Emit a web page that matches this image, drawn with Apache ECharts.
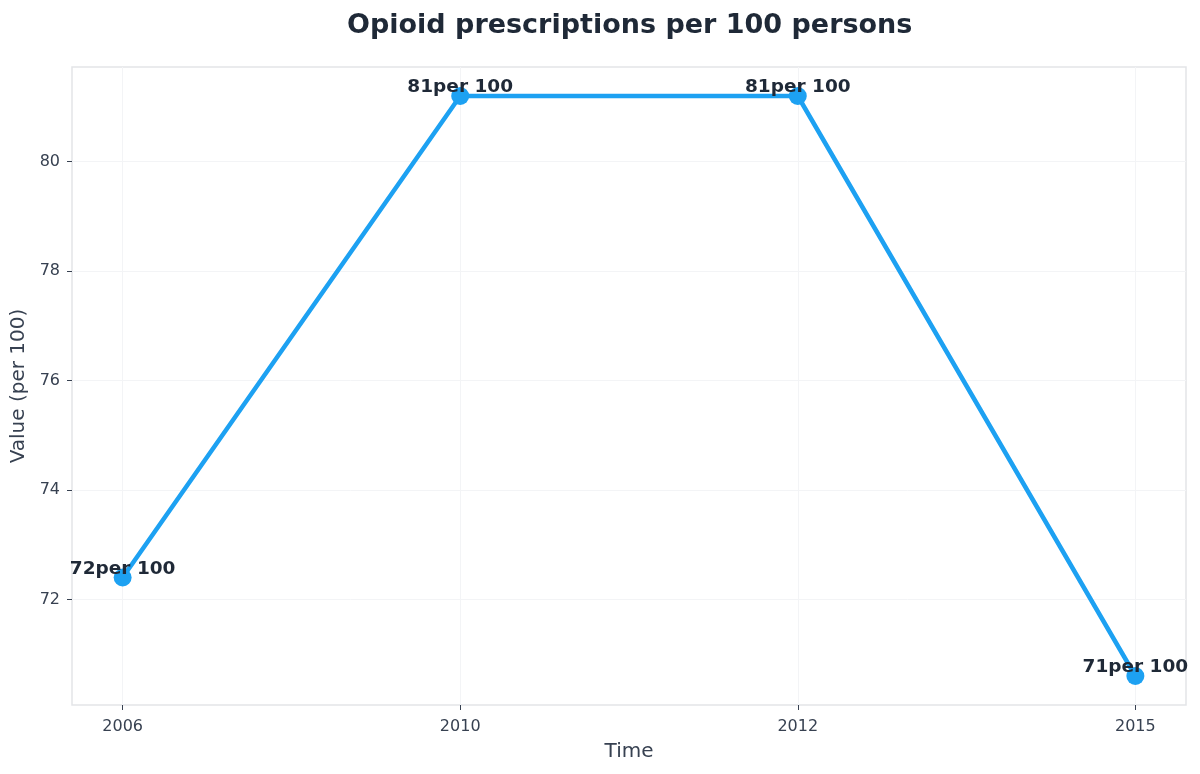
<!DOCTYPE html>
<html>
<head>
<meta charset="utf-8">
<script src="https://cdn.jsdelivr.net/npm/echarts@6/dist/echarts.min.js"></script>
<style>html,body{margin:0;padding:0;background:#fff;}#chart{width:1200px;height:774px;}</style>
</head>
<body>
<div id="chart"></div>
<script>
var categories = ['2006', '2010', '2012', '2015'];
var values = [72.4, 81.2, 81.2, 70.6];
var yTicks = [72, 74, 76, 78, 80];
var xTicks = [0, 1, 2, 3];

var chart = echarts.init(document.getElementById('chart'));
var font = 'DejaVu Sans';
chart.setOption({
  animation: false,
  backgroundColor: '#ffffff',
  title: {
    text: 'Opioid prescriptions per 100 persons',
    left: 342, top: 7,
    textStyle: { fontFamily: font, fontSize: 27, fontWeight: 'bold', color: '#1f2937' }
  },
  grid: {
    left: 72, right: 14, top: 67, bottom: 69,
    outerBoundsMode: 'none', containLabel: false,
    show: true, borderColor: '#e3e5e8', borderWidth: 1.5, backgroundColor: 'transparent'
  },
  xAxis: {
    type: 'value', min: -0.15, max: 3.15,
    name: 'Time', nameLocation: 'middle', nameGap: 37,
    nameTextStyle: { fontFamily: font, fontSize: 20, color: '#374151' },
    axisLine: { show: false, onZero: false },
    axisTick: { show: true, length: 5, customValues: xTicks, lineStyle: { color: '#374151', width: 1 } },
    axisLabel: { customValues: xTicks, fontFamily: font, fontSize: 16, color: '#374151', margin: 14,
      formatter: function (v) { return categories[Math.round(v)]; } },
    splitLine: { show: true, lineStyle: { color: '#f3f4f6', width: 1 } }
  },
  yAxis: {
    type: 'value', min: 70.07, max: 81.73,
    name: 'Value (per 100)', nameLocation: 'middle', nameGap: 40, nameRotate: 90,
    nameTextStyle: { fontFamily: font, fontSize: 20, color: '#374151' },
    axisLine: { show: false, onZero: false },
    axisTick: { show: true, length: 5, customValues: yTicks, lineStyle: { color: '#374151', width: 1 } },
    axisLabel: { customValues: yTicks, fontFamily: font, fontSize: 16, color: '#374151', margin: 12 },
    splitLine: { show: true, lineStyle: { color: '#f3f4f6', width: 1 } }
  },
  series: [{
    type: 'line',
    data: values.map(function (v, i) { return [i, v]; }),
    symbol: 'circle', symbolSize: 18,
    lineStyle: { color: '#1da1f2', width: 4.5 },
    itemStyle: { color: '#1da1f2' },
    label: {
      show: true, position: 'top', distance: -10,
      fontFamily: font, fontSize: 18.5, fontWeight: 'bold', color: '#1f2937',
      formatter: function (p) { return Math.round(p.value[1]) + 'per 100'; }
    },
    z: 3
  }]
});
</script>
</body>
</html>
